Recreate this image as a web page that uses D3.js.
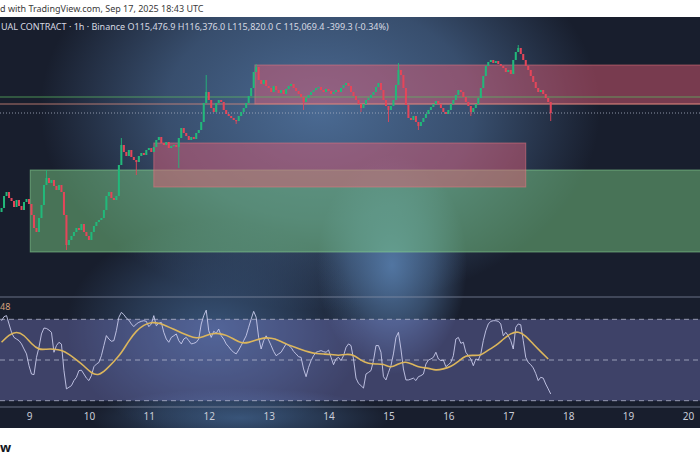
<!DOCTYPE html>
<meta charset="utf-8" />
<title>BTC perpetual 1h - TradingView snapshot</title>
<style>
  body { margin: 0; background: #fff; font-family: "Noto Sans", "Open Sans", sans-serif; }
  svg { display: block; }
  .axis text { fill: #c9cdd8; font-size: 10px; }
</style>
<svg width="700" height="467"></svg>

<script src="https://d3js.org/d3.v7.min.js"></script>
<script>
const width = 700, height = 467;
const svg = d3.select("svg");

// ---- data ----
const firstCandle = Date.UTC(2025, 8, 8, 13); // hourly candles from Sep 8 13:00 UTC
const firstOpen = 112100;
const closes = [
  112220,112580,112700,112520,112430,112250,112460,112280,112160,112400,
  112490,112340,112010,111620,111500,111920,112310,112910,113120,112970,
  113060,112880,112760,112910,112700,112010,111110,111260,111380,111500,
  111620,111560,111740,111500,111380,111260,111500,111680,111800,111860,
  111920,112160,112580,112700,112520,112460,112580,113510,114110,113900,
  113780,113960,113750,113660,113600,113780,113870,113810,113960,114020,
  113900,114050,114260,114350,114170,114110,114200,114020,114080,114110,
  114050,114320,114620,114470,114380,114260,114350,114290,114470,114560,
  114800,115370,115700,115460,115220,115100,115370,115460,115400,115160,
  115040,114980,114920,114860,114830,114980,115100,115220,115370,115580,
  115820,116300,116450,116060,115940,116060,115880,115820,115700,115880,
  115760,115670,115760,115640,115790,115880,115940,115820,115730,115640,
  115550,115400,115520,115610,115700,115760,115820,115850,115760,115700,
  115790,115730,115640,115700,115760,115700,115820,115910,115970,115880,
  115700,115580,115460,115340,115220,115340,115460,115520,115610,115700,
  115850,115970,115760,115460,115280,115160,115280,115460,115910,116360,
  116210,115820,115310,114920,114860,114980,114800,114680,114800,114920,
  115040,115160,115250,115340,115430,115340,115220,115100,115040,115160,
  115340,115460,115610,115760,115700,115550,115400,115280,115100,115220,
  115340,115520,115820,116180,116480,116600,116660,116570,116630,116540,
  116480,116420,116300,116360,116240,116660,116900,117020,116840,116660,
  116480,116360,116180,116000,115820,115700,115760,115640,115520,115400,
  115070
];
// long wicks that stand out: [candle index, price]
const wickHighs = [[18,113360],[48,114320],[82,116210],[102,116540],[159,116570],[207,117110]];
const wickLows = [[26,110960],[54,113210],[71,113420],[94,114740],[121,115160],[144,115100],
                  [155,114800],[167,114560],[188,114980],[220,114830]];

const rsi = [
  69.3,71.3,71.8,67.7,63.6,61.1,60.3,59.5,57.9,55.4,53.0,47.2,43.1,42.8,51.3,56.3,62.8,65.7,65.5,64.7,
  63.6,53.8,57.1,58.7,57.8,44.8,35.8,36.6,37.4,39.9,41.5,44.8,45.0,43.1,41.1,39.9,42.3,46.7,48.0,48.8,
  52.1,57.1,62.0,60.3,59.2,59.5,64.4,71.0,73.4,72.3,70.6,69.6,67.7,66.4,67.7,68.5,69.0,69.3,69.0,66.4,
  67.7,71.8,66.8,68.0,68.5,63.6,60.3,58.7,61.1,61.9,62.8,59.5,57.9,60.3,61.1,59.5,57.9,58.2,58.7,60.3,
  67.7,71.8,74.5,64.4,61.1,64.1,63.1,65.2,61.9,60.3,57.9,56.5,54.9,53.8,53.0,54.9,57.1,59.5,61.9,66.1,
  70.1,73.9,71.0,61.1,55.4,59.5,61.9,59.8,57.1,54.2,52.1,53.0,53.8,55.9,57.9,57.1,56.2,54.2,53.0,51.6,
  51.3,45.6,41.8,46.4,49.7,52.1,53.8,54.2,54.6,54.1,53.8,54.9,51.3,47.7,50.5,51.3,49.7,52.1,56.2,57.9,
  57.1,50.5,41.1,38.5,37.4,36.2,43.1,43.9,44.8,49.7,57.1,57.1,53.8,41.8,40.2,43.9,47.2,53.0,61.1,63.6,
  55.4,45.6,40.2,40.2,40.6,41.1,39.9,41.8,42.3,43.1,48.0,50.0,50.5,51.3,53.8,50.5,49.7,50.0,46.7,47.7,
  48.8,52.1,60.3,61.1,58.2,58.7,53.8,52.1,50.5,47.2,50.5,50.0,53.0,59.5,64.4,67.7,69.0,69.3,69.3,69.0,
  67.7,61.9,63.6,61.9,59.5,55.4,66.1,67.7,67.3,59.5,51.3,48.8,47.7,46.1,43.4,39.9,41.5,41.1,38.2,35.8,
  33.3
];
// RSI moving average, one reading every 3 candles
const rsiMaStep = 3;
const rsiMa = [
  58.7,62.4,64.1,62.4,57.8,54.9,55.4,55.4,54.9,52.9,50.1,47.2,43.4,42.3,45.4,49.2,53.3,59.5,64.4,67.3,
  68.6,68.2,66.8,65.1,63.4,61.9,60.6,61.4,63.1,63.1,62.3,60.3,58.2,58.5,59.8,61.0,60.8,59.8,57.8,56.5,
  55.2,53.9,53.1,52.9,52.8,52.1,52.9,52.6,49.7,48.2,48.0,48.2,45.9,48.3,49.3,47.7,46.2,46.1,44.8,45.6,
  46.7,49.3,52.3,52.3,52.1,55.0,56.9,60.3,63.1,64.2,61.9,57.8,54.1,50.5
];

const zones = [
  { from: Date.UTC(2025, 8, 12, 18, 30), to: Date.UTC(2025, 8, 21), top: 116510, bottom: 115340, kind: "supply" },
  { from: Date.UTC(2025, 8, 9, 0, 30), to: Date.UTC(2025, 8, 21), top: 113360, bottom: 110900, kind: "demand" },
  { from: Date.UTC(2025, 8, 11, 2), to: Date.UTC(2025, 8, 17, 7), top: 114170, bottom: 112850, kind: "supply" }
];
const greenLevel = 115550, redLevel = 115340, lastPrice = 115070;
const rsiLevels = [70, 50, 30];

const headerTop = "d with TradingView.com, Sep 17, 2025 18:43 UTC";
const headerSym = "UAL CONTRACT · 1h · Binance  O115,476.9  H116,376.0  L115,820.0  C 115,069.4  -399.3 (-0.34%)";

// ---- scales ----
const x = d3.scaleUtc()
  .domain([Date.UTC(2025, 8, 9), Date.UTC(2025, 8, 20)])
  .range([29, 688]);
const y = d3.scaleLinear().domain([109520, 117950]).range([298, 17]);
const ry = d3.scaleLinear().domain([30, 70]).range([400.7, 319.3]);
const hour = 3600e3;

const candles = closes.map((c, i) => {
  const o = i === 0 ? firstOpen : closes[i - 1];
  return { t: firstCandle + i * hour, o, c, h: Math.max(o, c), l: Math.min(o, c) };
});
wickHighs.forEach(([i, p]) => candles[i].h = p);
wickLows.forEach(([i, p]) => candles[i].l = p);

// ---- background ----
const defs = svg.append("defs");
function glow(id, color, stops) {
  const g = defs.append("radialGradient").attr("id", id);
  g.append("stop").attr("offset", "0%").attr("stop-color", color).attr("stop-opacity", stops[0]);
  g.append("stop").attr("offset", "55%").attr("stop-color", color).attr("stop-opacity", stops[1]);
  g.append("stop").attr("offset", "100%").attr("stop-color", color).attr("stop-opacity", 0);
}
glow("g1", "#4d6e98", [0.95, 0.6]);
glow("g2", "#5479a6", [0.95, 0.5]);
glow("g3", "#3f5f88", [0.8, 0.4]);
defs.append("clipPath").attr("id", "chartClip")
  .append("rect").attr("x", 0).attr("y", 17).attr("width", width).attr("height", 411);

svg.append("rect").attr("width", width).attr("height", height).attr("fill", "#fff");
const chart = svg.append("g").attr("clip-path", "url(#chartClip)");
chart.append("rect").attr("x", 0).attr("y", 17).attr("width", width).attr("height", 411).attr("fill", "#181e2d");
chart.append("ellipse").attr("cx", 320).attr("cy", 110).attr("rx", 280).attr("ry", 200).attr("fill", "url(#g1)");
chart.append("ellipse").attr("cx", 392).attr("cy", 265).attr("rx", 75).attr("ry", 110).attr("fill", "url(#g2)");
chart.append("ellipse").attr("cx", 215).attr("cy", 330).attr("rx", 150).attr("ry", 110).attr("fill", "url(#g3)");
chart.append("ellipse").attr("cx", 240).attr("cy", 418).attr("rx", 150).attr("ry", 30).attr("fill", "url(#g3)");

// ---- zones ----
chart.append("g").selectAll("rect")
  .data(zones)
  .join("rect")
  .attr("x", d => x(d.from))
  .attr("y", d => y(d.top))
  .attr("width", d => x(d.to) - x(d.from))
  .attr("height", d => y(d.bottom) - y(d.top))
  .attr("fill", d => d.kind === "supply" ? "rgba(226,92,118,0.48)" : "rgba(120,200,130,0.5)")
  .attr("stroke", d => d.kind === "supply" ? "rgba(235,120,130,0.5)" : "rgba(140,215,150,0.55)")
  .attr("stroke-width", 1);

// ---- levels ----
chart.append("line").attr("x1", 0).attr("x2", width)
  .attr("y1", y(greenLevel)).attr("y2", y(greenLevel))
  .attr("stroke", "#5cb860").attr("stroke-opacity", 0.75).attr("stroke-width", 1);
chart.append("line").attr("x1", 0).attr("x2", width)
  .attr("y1", y(redLevel)).attr("y2", y(redLevel))
  .attr("stroke", "#d88a7c").attr("stroke-opacity", 0.8).attr("stroke-width", 1);
chart.append("line").attr("x1", 0).attr("x2", width)
  .attr("y1", y(lastPrice)).attr("y2", y(lastPrice))
  .attr("stroke", "#aab2c4").attr("stroke-opacity", 0.8).attr("stroke-dasharray", "1,2");

// ---- candles ----
const up = "#22b87a", down = "#e4465a";
const cg = chart.append("g");
cg.selectAll("line")
  .data(candles)
  .join("line")
  .attr("x1", d => x(d.t)).attr("x2", d => x(d.t))
  .attr("y1", d => y(d.h)).attr("y2", d => y(d.l))
  .attr("stroke", d => d.c >= d.o ? up : down)
  .attr("stroke-width", 0.9);
cg.selectAll("rect")
  .data(candles)
  .join("rect")
  .attr("x", d => x(d.t) - 1)
  .attr("width", 2)
  .attr("y", d => y(Math.max(d.o, d.c)))
  .attr("height", d => Math.max(1.2, y(Math.min(d.o, d.c)) - y(Math.max(d.o, d.c))))
  .attr("fill", d => d.c >= d.o ? up : down);

// ---- panel separators ----
[297, 407].forEach(v => chart.append("line")
  .attr("x1", 0).attr("x2", width).attr("y1", v).attr("y2", v)
  .attr("stroke", "#8c96ad").attr("stroke-opacity", 0.7));

// ---- RSI panel ----
chart.append("rect")
  .attr("x", 0).attr("width", width)
  .attr("y", ry(70)).attr("height", ry(30) - ry(70))
  .attr("fill", "rgba(140,140,225,0.33)");
chart.append("g").selectAll("line")
  .data(rsiLevels)
  .join("line")
  .attr("x1", 0).attr("x2", width)
  .attr("y1", d => ry(d)).attr("y2", d => ry(d))
  .attr("stroke", "#b8bcd2").attr("stroke-opacity", 0.75)
  .attr("stroke-dasharray", "5,4");

const rsiLine = d3.line()
  .x((d, i) => x(firstCandle + i * hour))
  .y(d => ry(d));
chart.append("path")
  .datum(rsi)
  .attr("d", rsiLine)
  .attr("fill", "none")
  .attr("stroke", "#c9cbeb")
  .attr("stroke-width", 1)
  .attr("stroke-opacity", 0.9);

const maLine = d3.line()
  .x((d, i) => x(firstCandle + i * rsiMaStep * hour))
  .y(d => ry(d))
  .curve(d3.curveBasis);
chart.append("path")
  .datum(rsiMa)
  .attr("d", maLine)
  .attr("fill", "none")
  .attr("stroke", "#dcb65c")
  .attr("stroke-width", 1.6);

chart.append("text")
  .attr("x", 0).attr("y", 310)
  .attr("fill", "#d9a27e")
  .style("font-size", "9px")
  .text("48");

// ---- time axis ----
const axis = chart.append("g")
  .attr("class", "axis")
  .attr("transform", "translate(0,408)")
  .call(d3.axisBottom(x).ticks(d3.utcDay.every(1)).tickFormat(d3.utcFormat("%-d")).tickSize(0).tickPadding(5));
axis.select(".domain").remove();
axis.selectAll("text").style("font-family", "'Noto Sans', sans-serif");

// ---- header texts ----
chart.append("text")
  .attr("x", 1).attr("y", 30)
  .attr("fill", "#d6d9e2")
  .style("font-size", "9px")
  .text(headerSym);
svg.append("text")
  .attr("x", 0).attr("y", 12)
  .attr("fill", "#3a3a3a")
  .style("font-size", "9px")
  .text(headerTop);
svg.append("text")
  .attr("x", 0).attr("y", 452)
  .attr("fill", "#131722")
  .style("font-size", "13px")
  .style("font-weight", "bold")
  .text("w");
</script>
